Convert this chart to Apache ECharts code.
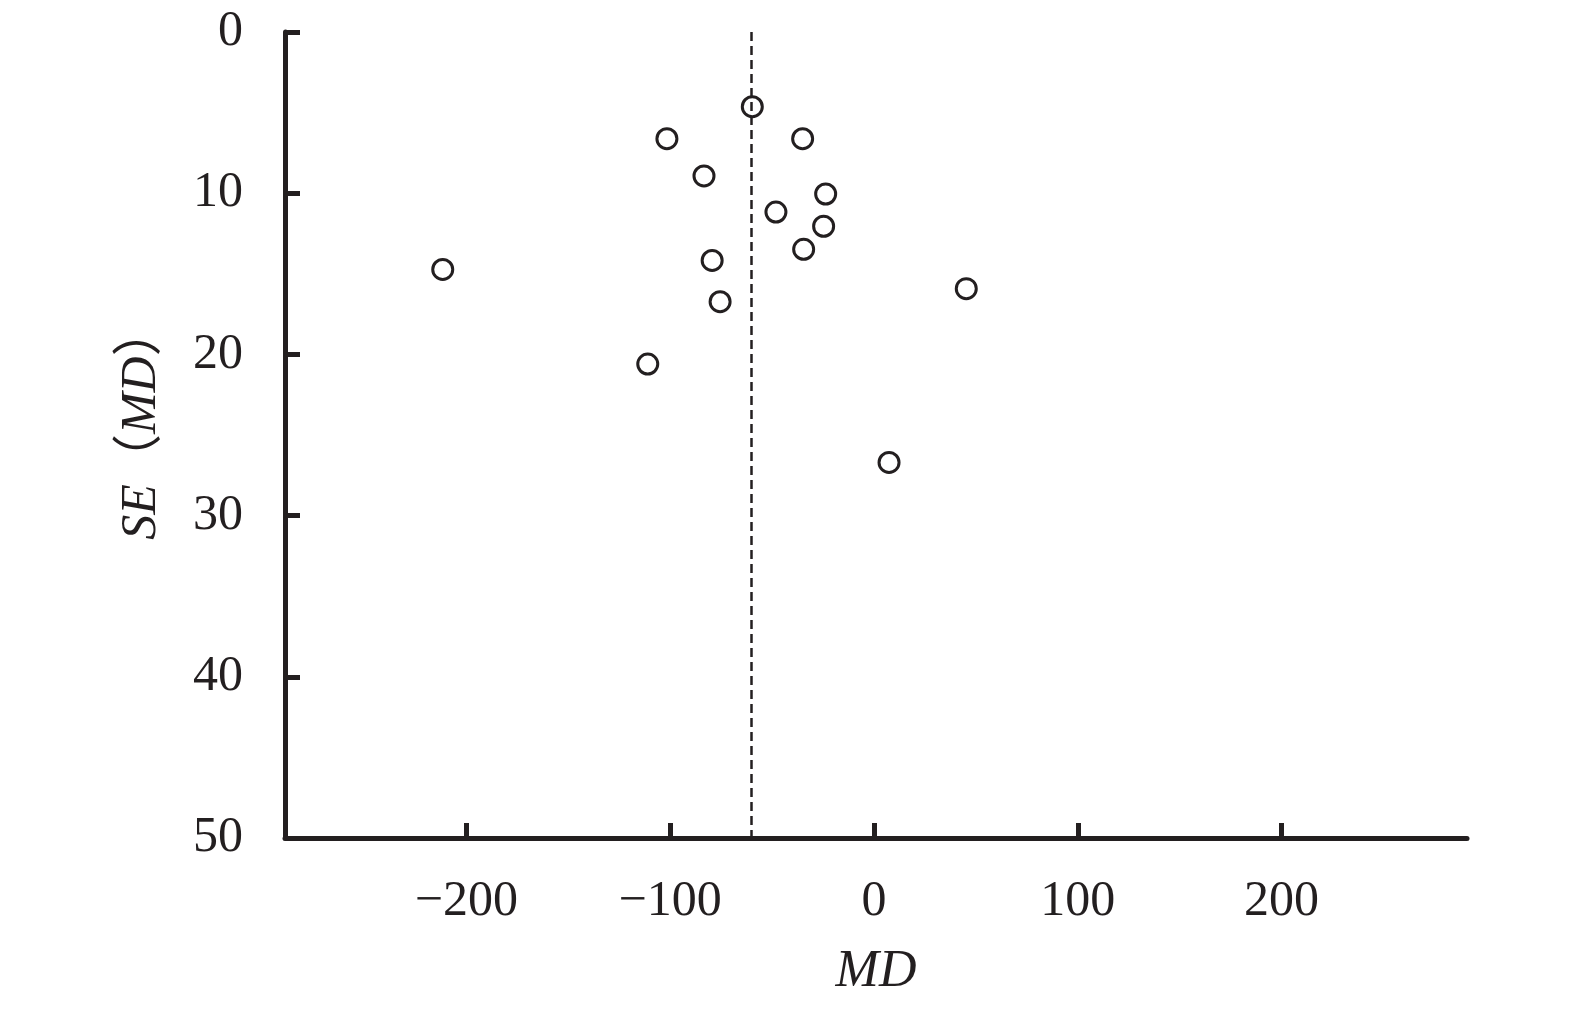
<!DOCTYPE html>
<html>
<head>
<meta charset="utf-8">
<script src="https://cdn.jsdelivr.net/npm/echarts@6/dist/echarts.min.js"></script>
<style>
html,body{margin:0;padding:0;background:#fff;}
#chart{width:1575px;height:1012px;}
</style>
</head>
<body>
<div id="chart"></div>
<script>
// Study effects (mean difference) and their standard errors
const mdValues = [-59.7, -101.6, -35.0, -83.4, -23.7, -48.1, -24.7, -34.5, -79.4, -211.6, 45.3, -75.5, -111.0, 7.4];
const seValues = [4.63, 6.62, 6.62, 8.93, 10.05, 11.17, 12.05, 13.48, 14.17, 14.73, 15.92, 16.73, 20.6, 26.7];
const pooledMD = -60;
const xTickValues = [-200, -100, 0, 100, 200];
const yTicks = [0, 10, 20, 30, 40, 50];

const ink = '#231f20';
const serif = '"Liberation Serif", "Noto Sans CJK SC", serif';
const points = mdValues.map((v, i) => [v, seValues[i]]);

const chart = echarts.init(document.getElementById('chart'), null, {renderer: 'canvas'});
chart.setOption({
  backgroundColor: '#fff',
  animation: false,
  grid: {left: 285, right: 108, top: 32, bottom: 174, containLabel: false},
  xAxis: {
    type: 'value',
    min: -289,
    max: 291,
    name: 'MD',
    nameLocation: 'middle',
    nameGap: 108,
    nameTextStyle: {fontFamily: serif, fontSize: 52, fontStyle: 'italic', color: ink},
    axisLine: {show: true, onZero: false, lineStyle: {color: ink, width: 5}},
    axisTick: {show: true, inside: true, length: 15, customValues: xTickValues, lineStyle: {color: ink, width: 5}},
    axisLabel: {
      customValues: xTickValues,
      margin: 39,
      fontFamily: serif, fontSize: 50, color: ink,
      formatter: v => String(v).replace('-', '\u2212')
    },
    splitLine: {show: false}
  },
  yAxis: {
    type: 'value',
    inverse: true,
    min: yTicks[0],
    max: yTicks[yTicks.length - 1],
    interval: 10,
    name: '{i|SE}（{i|MD}）',
    nameLocation: 'middle',
    nameGap: 118,
    nameTextStyle: {
      fontFamily: serif, fontSize: 50, color: ink,
      padding: [0, 0, 0, 24],
      rich: {i: {fontFamily: serif, fontSize: 50, fontStyle: 'italic', color: ink}}
    },
    axisLine: {show: true, onZero: false, lineStyle: {color: ink, width: 5}},
    axisTick: {show: true, inside: true, length: 15, lineStyle: {color: ink, width: 5}},
    axisLabel: {margin: 42, fontFamily: serif, fontSize: 50, color: ink},
    splitLine: {show: false}
  },
  series: [{
    type: 'scatter',
    data: points,
    symbol: 'circle',
    symbolSize: 20,
    itemStyle: {color: '#fff', borderColor: ink, borderWidth: 3, opacity: 1},
    markLine: {
      silent: true,
      symbol: ['none', 'none'],
      label: {show: false},
      lineStyle: {color: ink, width: 2.5, type: [9, 5], opacity: 1},
      data: [[{coord: [pooledMD, yTicks[0]]}, {coord: [pooledMD, yTicks[yTicks.length - 1]]}]]
    },
    z: 3
  }]
});
</script>
</body>
</html>
